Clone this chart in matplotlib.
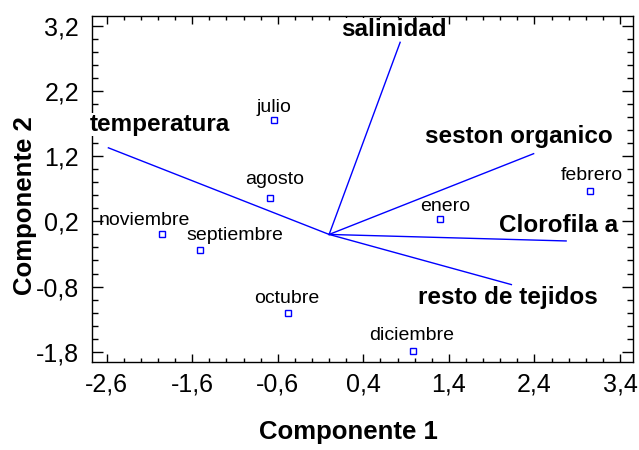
import matplotlib
matplotlib.use("Agg")
import numpy as np
import matplotlib.pyplot as plt
from matplotlib.ticker import FuncFormatter, MultipleLocator

plt.rcParams["font.family"] = ["Liberation Sans", "DejaVu Sans"]

# Puntuaciones de los meses en los dos primeros componentes
meses = ["julio", "agosto", "enero", "noviembre", "septiembre", "octubre", "diciembre", "febrero"]
comp1_meses = [-0.65, -0.69, 1.29, -1.95, -1.51, -0.48, 0.98, 3.05]
comp2_meses = [1.75, 0.56, 0.23, 0.01, -0.24, -1.21, -1.79, 0.67]

# Pesos de las variables (vectores desde el origen)
variables = ["temperatura", "salinidad", "seston organico", "Clorofila a", "resto de tejidos"]
comp1_vars = [-2.58, 0.83, 2.39, 2.77, 2.13]
comp2_vars = [1.33, 2.95, 1.24, -0.10, -0.77]

# Desplazamiento de las etiquetas de los meses respecto al punto (pixeles)
desp_meses = [(0, 8), (5, 14), (6, 8), (-18, 9), (35, 10), (-1, 10), (-1, 11), (2, 11)]
# Posicion de las etiquetas de las variables (borde izquierdo, linea base)
pos_vars = [(-2.795, 1.593), (0.135, 3.047), (1.121, 1.404), (1.986, 0.042), (1.039, -1.068)]

AZUL = "#0000ff"

fig = plt.figure(figsize=(6.39, 4.5), dpi=100)
ax = fig.add_axes([91.7 / 639, 88.3 / 450, 541.0 / 639, 345.7 / 450])

for cx, cy in zip(comp1_vars, comp2_vars):
    ax.plot([0, cx], [0, cy], color=AZUL, lw=1)

ax.plot(comp1_meses, comp2_meses, ls="none", marker="s", ms=5,
        mfc="white", mec=AZUL, mew=1, zorder=3)

for mes, cx, cy, (dx, dy) in zip(meses, comp1_meses, comp2_meses, desp_meses):
    ax.annotate(mes, (cx, cy), xytext=(dx, dy), textcoords="offset pixels",
                ha="center", va="baseline", fontsize=14)

for nombre, (tx, ty) in zip(variables, pos_vars):
    ax.text(tx, ty, nombre, ha="left", va="baseline", fontsize=17.5, fontweight="bold",
            bbox=dict(facecolor="white", edgecolor="none", pad=0), zorder=4)

ax.set_xlim(-2.775, 3.548)
ax.set_ylim(-1.954, 3.354)

ax.set_xticks(np.arange(-2.6, 3.5, 1.0))
ax.set_yticks(np.arange(-1.8, 3.3, 1.0))
ax.xaxis.set_minor_locator(MultipleLocator(0.2))
ax.yaxis.set_minor_locator(MultipleLocator(0.2))

# Decimales con coma
coma = FuncFormatter(lambda v, p: f"{v:.1f}".replace(".", ","))
ax.xaxis.set_major_formatter(coma)
ax.yaxis.set_major_formatter(coma)

ax.tick_params(which="both", direction="in", top=True, right=True, width=1, labelsize=18)
ax.tick_params(axis="x", which="major", length=6, pad=8)
ax.tick_params(axis="x", which="minor", length=3)
ax.tick_params(axis="y", which="major", length=8, pad=9)
ax.tick_params(axis="y", which="minor", length=4)

for sp in ax.spines.values():
    sp.set_linewidth(1)

fig.text(348 / 639, 1 - 432 / 450, "Componente 1", ha="center", va="center",
         fontsize=18.5, fontweight="bold")
fig.text(25 / 639, 1 - 206 / 450, "Componente 2", ha="center", va="center",
         rotation=90, fontsize=18.5, fontweight="bold")

fig.savefig("out.png", dpi=100)
